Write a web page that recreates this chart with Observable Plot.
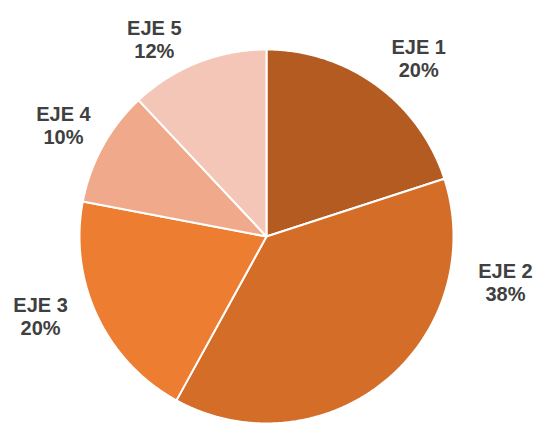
<!DOCTYPE html>
<html>
<head>
<meta charset="utf-8">
<script src="https://cdn.jsdelivr.net/npm/d3@7"></script>
<script src="https://cdn.jsdelivr.net/npm/@observablehq/plot@0.6"></script>
<style>
  html, body { margin: 0; padding: 0; background: #fff; }
</style>
</head>
<body>
<div id="chart"></div>
<script>
const categories = ["EJE 1", "EJE 2", "EJE 3", "EJE 4", "EJE 5"];
const values = [20, 38, 20, 10, 12];
const labels = ["20%", "38%", "20%", "10%", "12%"];
const colors = ["#b45b22", "#d46d28", "#ed7d31", "#f0a98b", "#f4c6b8"];
// label anchor positions in chart units (pie radius = 1)
const labelX = [0.814, 1.278, -1.208, -1.086, -0.600];
const labelY = [0.952, -0.246, -0.425, 0.594, 1.053];

const total = d3.sum(values);
const slices = [];
let acc = 0;
categories.forEach((name, i) => {
  const a0 = acc / total * 2 * Math.PI;
  acc += values[i];
  const a1 = acc / total * 2 * Math.PI;
  slices.push({name, pt: 0, x: 0, y: 0});
  const n = Math.max(2, Math.ceil((a1 - a0) / (Math.PI / 360)));
  for (let k = 0; k <= n; k++) {
    const a = a0 + (a1 - a0) * k / n;
    slices.push({name, x: Math.sin(a), y: Math.cos(a)});
  }
  slices.push({name, x: 0, y: 0});
});

const labelData = categories.map((name, i) => ({
  text: name + "\n" + labels[i], x: labelX[i], y: labelY[i]
}));

const plot = Plot.plot({
  width: 534,
  height: 423,
  marginLeft: 79,
  marginRight: 81,
  marginTop: 49,
  marginBottom: 0,
  x: {domain: [-1, 1], axis: null},
  y: {domain: [-1, 1], axis: null},
  color: {domain: categories, range: colors},
  style: {overflow: "visible", background: "#fff"},
  marks: [
    Plot.line(slices, {x: "x", y: "y", z: "name", fill: "name", stroke: "#fff", strokeWidth: 2, strokeLinejoin: "round", curve: "linear"}),
    Plot.text(labelData, {
      x: "x", y: "y", text: "text",
      fontSize: 20, fontWeight: "bold", fill: "#404040",
      fontFamily: "Liberation Sans, Arial, sans-serif",
      lineHeight: 1.15, lineAnchor: "middle", textAnchor: "middle"
    })
  ]
});
document.getElementById("chart").appendChild(plot);
</script>
</body>
</html>
